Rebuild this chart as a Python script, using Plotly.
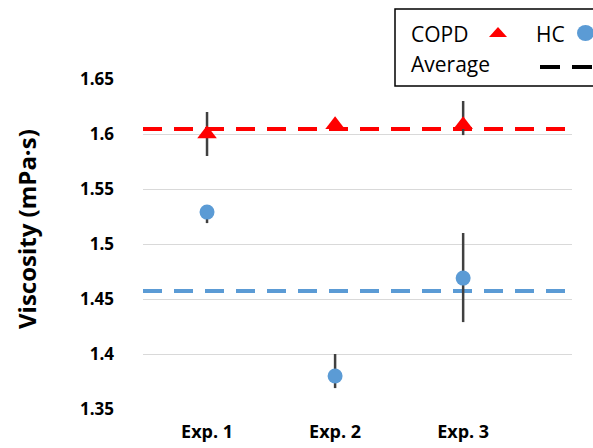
import plotly.graph_objects as go

# ---- data ----
categories = ["Exp. 1", "Exp. 2", "Exp. 3"]
cat_pos = [1, 2, 3]
copd_vals = [1.600, 1.6085, 1.6085]
copd_err_plus = [0.020, 0.004, 0.0215]
copd_err_minus = [0.020, 0.004, 0.0095]
hc_vals = [1.529, 1.380, 1.469]
hc_err_plus = [0.004, 0.020, 0.041]
hc_err_minus = [0.010, 0.011, 0.040]
copd_avg = 1.6045
hc_avg = 1.4573
y_ticks = [1.35, 1.4, 1.45, 1.5, 1.55, 1.6, 1.65]
y_tick_text = ["1.35", "1.4", "1.45", "1.5", "1.55", "1.6", "1.65"]
y_title = "Viscosity (mPa·s)"

X_RANGE = [0.5, 3.85]
Y_RANGE = [1.35, 1.65]

RED = "#ff0000"
BLUE = "#5b9bd5"
ERR = "#404040"
FONT = "Open Sans"

W, H = 593, 448
L, R, T, B = 143, 21, 79, 39


def px(x):
    return (x - L) / (W - L - R)


def py(y):
    return (H - B - y) / (H - T - B)


fig = go.Figure()

# average lines spanning the full plot width
fig.add_trace(go.Scatter(
    x=X_RANGE, y=[copd_avg, copd_avg], mode="lines",
    line=dict(color=RED, width=4, dash="19px,12px"),
    hoverinfo="skip", showlegend=False))
fig.add_trace(go.Scatter(
    x=X_RANGE, y=[hc_avg, hc_avg], mode="lines",
    line=dict(color=BLUE, width=4, dash="19px,12px"),
    hoverinfo="skip", showlegend=False))

fig.add_trace(go.Scatter(
    x=cat_pos, y=copd_vals, mode="markers", name="COPD",
    marker=dict(symbol="triangle-up", size=17, color=RED),
    error_y=dict(type="data", symmetric=False, array=copd_err_plus,
                 arrayminus=copd_err_minus, color=ERR, thickness=2.5, width=0),
    showlegend=False))
fig.add_trace(go.Scatter(
    x=cat_pos, y=hc_vals, mode="markers", name="HC",
    marker=dict(symbol="circle", size=15, color=BLUE),
    error_y=dict(type="data", symmetric=False, array=hc_err_plus,
                 arrayminus=hc_err_minus, color=ERR, thickness=2.5, width=0),
    showlegend=False))

shapes = [
    # legend box
    dict(type="rect", xref="paper", yref="paper",
         x0=px(395), x1=px(620), y0=py(86), y1=py(9),
         line=dict(color="black", width=1.5), fillcolor="white", layer="above"),
    # triangle swatch
    dict(type="path", xref="paper", yref="paper",
         path=f"M {px(489)},{py(37)} L {px(507)},{py(37)} L {px(498)},{py(27)} Z",
         fillcolor=RED, line=dict(width=0)),
    # circle swatch
    dict(type="circle", xref="paper", yref="paper",
         x0=px(577), x1=px(594), y0=py(41), y1=py(25),
         fillcolor=BLUE, line=dict(width=0)),
    # dashed swatch
    dict(type="line", xref="paper", yref="paper",
         x0=px(540), x1=px(620), y0=py(67), y1=py(67),
         line=dict(color="black", width=4, dash="20px,12px")),
]

annotations = [
    dict(text="COPD", x=px(409), y=py(34), xref="paper", yref="paper",
         xanchor="left", yanchor="middle", showarrow=False,
         font=dict(family=FONT, size=21, color="black")),
    dict(text="HC", x=px(534), y=py(34), xref="paper", yref="paper",
         xanchor="left", yanchor="middle", showarrow=False,
         font=dict(family=FONT, size=21, color="black")),
    dict(text="Average", x=px(409), y=py(64), xref="paper", yref="paper",
         xanchor="left", yanchor="middle", showarrow=False,
         font=dict(family=FONT, size=21, color="black")),
    # y-axis title
    dict(text=y_title, x=px(26), y=py(229), xref="paper", yref="paper",
         xanchor="center", yanchor="middle", showarrow=False, textangle=-90,
         font=dict(family=FONT, size=24, color="black", weight="bold")),
]

fig.update_layout(
    width=W, height=H,
    margin=dict(l=L, r=R, t=T, b=B),
    paper_bgcolor="white", plot_bgcolor="white",
    shapes=shapes, annotations=annotations,
    showlegend=False,
    xaxis=dict(range=X_RANGE, tickvals=cat_pos, ticktext=categories,
               showgrid=False, zeroline=False, showline=False,
               ticks="", ticklabelstandoff=10, automargin=False,
               tickfont=dict(family=FONT, size=18, color="black", weight="bold")),
    yaxis=dict(range=Y_RANGE, tickvals=y_ticks, ticktext=y_tick_text,
               showgrid=True, gridcolor="#d9d9d9", gridwidth=1,
               zeroline=False, showline=False, ticks="",
               ticklabelstandoff=28, automargin=False,
               tickfont=dict(family=FONT, size=17, color="black", weight="bold")),
)

fig.write_html("out.html", config={"displayModeBar": False},
               post_script="document.body.style.margin='0';document.body.style.overflow='hidden';")
